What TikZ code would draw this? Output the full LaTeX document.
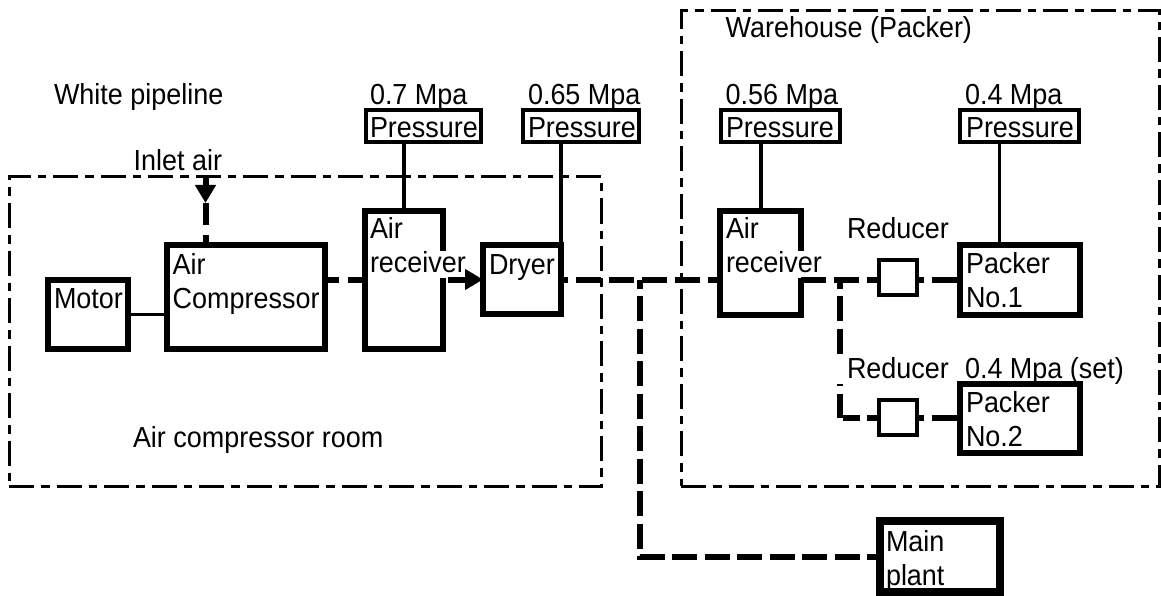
\documentclass[tikz,border=0pt]{standalone}
\usepackage{fontspec}
\setmainfont[FakeStretch=0.93]{Liberation Sans}
\usetikzlibrary{arrows.meta,calc}
\newcommand\wbg[1]{{\fboxsep=0pt\colorbox{white}{\rule[-5pt]{0pt}{26pt}#1}}}
\newcommand\blk[9]{%
  % style, name, x0, y0, x1, y1, text x, baseline, text
  \pgfmathsetmacro\bxp{#7-#3}%
  \pgfmathsetmacro\bxw{#5-#3-2*(#7-#3)}%
  \pgfmathsetmacro\bxh{#8-#4}%
  \pgfmathsetmacro\bxd{#6-#8}%
  \node[#1,anchor=north west,inner xsep=\bxp pt,text width=\bxw pt,text height=\bxh pt,text depth=\bxd pt] (#2) at (#3,#4) {#9};%
}
\tikzset{
  x=1pt,y=-1pt,
  txt/.style={font=\fontsize{29}{34.5}\selectfont,inner sep=0pt,outer sep=0pt,anchor=base west},
  boxbase/.style={draw=black,rectangle,inner ysep=0pt,outer sep=0pt,align=left,font=\fontsize{29}{34.5}\selectfont},
  heavy/.style={boxbase,line width=5.5pt},
  gauge/.style={boxbase,line width=4pt},
  mainbox/.style={boxbase,line width=8.7pt},
  valve/.style={draw=black,rectangle,line width=4pt,outer sep=0pt,inner sep=0pt,anchor=north west},
  zone/.style={draw=black,rectangle,line width=3pt,outer sep=0pt,inner sep=0pt,anchor=north west,dash pattern=on 25pt off 7pt on 8.5pt off 7pt},
  pipe/.style={draw=black,line width=6pt},
  signal/.style={draw=black,line width=3.2pt},
  flowtip/.style={-{Triangle[length=18pt,width=20pt]}},
}
\begin{document}
\begin{tikzpicture}
\useasboundingbox (0,0) rectangle (1161,596);
% zones
\node[zone,minimum width=592.5pt,minimum height=309pt] (room) at (9,177) {};
\node[zone,minimum width=478.6pt,minimum height=475pt] (ware) at (681,11) {};
% free labels
\node[txt] (title) at (54,105) {White pipeline};
\node[txt] (inlab) at (133.6,170.6) {Inlet air};
\node[txt] (roomlab) at (133,447) {Air compressor room};
\node[txt] (warelab) at (725.7,38) {Warehouse (Packer)};
\node[txt] (v1) at (370,105) {0.7 Mpa};
\node[txt] (v2) at (528,105) {0.65 Mpa};
\node[txt] (v3) at (725.7,105) {0.56 Mpa};
\node[txt] (v4) at (965,105) {0.4 Mpa};
\node[txt] (rl1) at (847,238) {Reducer};
\node[txt] (v5) at (965,378) {0.4 Mpa (set)};
% boxes
\blk{heavy}{motor}{48}{280}{128}{349}{54}{308}{Motor}
\blk{heavy}{comp}{167}{245}{325}{349}{172.7}{274}{Air\\Compressor}
\blk{heavy}{recva}{365}{211}{443}{349}{370}{238}{Air\\\wbg{receiver}}
\blk{heavy}{dryer}{483}{245}{561}{314}{489}{274}{Dryer}
\blk{gauge}{pa}{366}{110}{481}{142}{370}{138}{Pressure}
\blk{gauge}{pb}{523}{110}{639}{142}{528}{138}{Pressure}
\blk{gauge}{pc}{721}{110}{840}{142}{726}{138}{Pressure}
\blk{gauge}{pd}{960}{110}{1079}{142}{966}{138}{Pressure}
\blk{heavy}{recvb}{720}{211}{801}{315}{726}{238}{Air\\\wbg{receiver}}
\blk{heavy}{packa}{960}{245}{1080}{315}{966}{273}{Packer\\No.1}
\blk{heavy}{packb}{960}{384}{1080}{453}{966}{412}{Packer\\No.2}
\blk{mainbox}{plant}{880}{521}{1000}{592}{886}{551}{Main\\plant}
\node[valve,minimum width=38pt,minimum height=35pt] (reda) at (879,260) {};
\node[valve,minimum width=38pt,minimum height=35pt] (redb) at (879,400) {};
% reference points on the pipe run
\coordinate (pipeY) at (0,279.5);
\coordinate (inlet) at (205.5,177);
\coordinate (inhead) at (205.5,203);
\coordinate (jplant) at (640,279.5);
\coordinate (jred) at (840.4,279.5);
\coordinate (pkline) at ($(packa.north west)!.33!(packa.north east)$);
% signal lines
\draw[signal] (motor.east) -- (motor.east -| comp.west);
\draw[signal] (recva.north |- pa.south) -- (recva.north);
\draw[signal] (dryer.north east |- pb.south) -- (dryer.north east);
\draw[signal,line width=4pt] (recvb.north |- pc.south) -- (recvb.north);
\draw[signal] (pkline |- pd.south) -- (pkline);
% pipes
\draw[pipe,flowtip] (inlet) -- (inhead);
\draw[pipe,dash pattern=on 22pt off 10pt on 12pt] (inhead) -- (inhead |- comp.north);
\draw[pipe,dash pattern=on 14pt off 9pt on 14pt] (comp.east |- pipeY) -- (recva.west |- pipeY);
\draw[pipe,flowtip,shorten <=5pt] (recva.east |- pipeY) -- (dryer.west);
\draw[pipe,dash pattern=on 25pt off 8pt,dash phase=18pt] (dryer.east) -- (dryer.east -| recvb.west);
\draw[pipe,dash pattern=on 25pt off 7.5pt,dash phase=16pt] (jplant) -- (jplant |- plant.west) -- (plant.west);
\draw[pipe,dash pattern=on 25pt off 8pt] (recvb.east |- pipeY) -- (reda.west |- pipeY);
\draw[pipe,dash pattern=on 6.5pt off 8pt on 40pt] (reda.east |- pipeY) -- (reda.east |- pipeY -| packa.west);
\draw[pipe,dash pattern=on 25pt off 7.5pt,dash phase=16pt] (jred) -- (jred |- redb.west);
\draw[pipe,dash pattern=on 0pt off 2.6pt on 17pt off 7pt on 14pt] (jred |- redb.west) -- (redb.west);
\draw[pipe,dash pattern=on 6.5pt off 8pt on 40pt] (redb.east) -- (redb.east -| packb.west);
% label with white ground over the pipe
\node[txt,fill=white] (rl2) at (836.5,378) {\rule[-6pt]{0pt}{26pt}\hspace{10.5pt}Reducer};
\end{tikzpicture}
\end{document}
